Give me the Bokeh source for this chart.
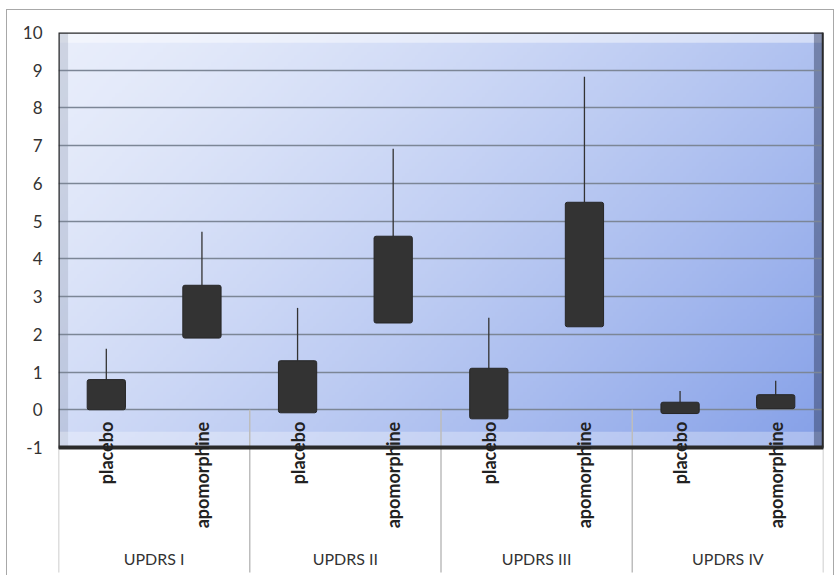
import numpy as np
from bokeh.plotting import figure
from bokeh.models import FactorRange, Range1d, FixedTicker, ColumnDataSource, InlineStyleSheet
from bokeh.core.properties import value
from bokeh.embed import file_html
from bokeh.resources import INLINE

# ---- data ----
groups = ["UPDRS I", "UPDRS II", "UPDRS III", "UPDRS IV"]
treatments = ["placebo", "apomorphine"]
box_low = [0.0, 1.9, -0.08, 2.3, -0.24, 2.2, -0.1, 0.03]
box_high = [0.8, 3.3, 1.3, 4.6, 1.1, 5.5, 0.2, 0.4]
whisker_high = [1.62, 4.72, 2.7, 6.92, 2.44, 8.83, 0.5, 0.77]
y_ticks = list(range(-1, 11))
y_tick_labels = ["-1", "0", "1", "2", "3", "4", "5", "6", "7", "8", "9", "10"]

factors = [(g, t) for g in groups for t in treatments]
n_cat = len(factors)
y_min, y_max = y_ticks[0], y_ticks[-1]

FONT = value("Lato")
Y_BOTTOM = -4.393

p = figure(width=834, height=575, output_backend="svg", toolbar_location=None,
           x_range=FactorRange(*factors, group_padding=0, factor_padding=0, range_padding=0),
           y_range=Range1d(Y_BOTTOM, y_max),
           min_border_left=58, min_border_right=11, min_border_top=32, min_border_bottom=0)
p.outline_line_color = None
p.background_fill_color = "white"
p.border_fill_color = "white"
p.xaxis.visible = False
p.xgrid.visible = False

# outer chart border (CSS overlay)
p.stylesheets = [InlineStyleSheet(css=(
    ":host { position: relative; }"
    ":host::after { content: ''; position: absolute; left: 6px; top: 9px; right: 0px; bottom: -4px;"
    " border: 1.5px solid #a8a8a8; pointer-events: none; box-sizing: border-box; }"))]

yax = p.yaxis[0]
yax.ticker = FixedTicker(ticks=y_ticks)
yax.major_label_overrides = {t: s for t, s in zip(y_ticks, y_tick_labels)}
yax.axis_line_color = None
yax.major_tick_line_color = None
yax.minor_tick_line_color = None
yax.major_tick_out = 0
yax.major_label_standoff = 16
yax.major_label_text_font = "Lato"
yax.major_label_text_font_size = "17px"
yax.major_label_text_color = "#333333"

p.ygrid.ticker = FixedTicker(ticks=y_ticks)
p.ygrid.grid_line_color = "#7c8696"
p.ygrid.grid_line_width = 1.5

# ---- gradient wall ----
ny, nx = 120, 240
u = np.linspace(0, 1, nx)[None, :]
v = np.linspace(1, 0, ny)[:, None]  # row 0 = bottom
t = (0.65 * u + 0.35 * v) ** 1.3
c1 = np.array([233, 238, 251])
c2 = np.array([133, 160, 232])
r = (c1[0] + (c2[0] - c1[0]) * t).astype(np.uint32)
g = (c1[1] + (c2[1] - c1[1]) * t).astype(np.uint32)
b = (c1[2] + (c2[2] - c1[2]) * t).astype(np.uint32)
img = (255 << 24) | (b << 16) | (g << 8) | r
p.image_rgba(image=[img.astype(np.uint32)], x=0, y=y_min, dw=n_cat, dh=y_max - y_min, level="image")

# bevel strips
p.quad(left=0, right=n_cat, bottom=y_max - 0.27, top=y_max, fill_color="white", fill_alpha=0.45,
       line_color=None, level="image")
p.quad(left=0, right=0.1, bottom=y_min, top=y_max, fill_color="#8e97ab", fill_alpha=0.3,
       line_color=None, level="image")
p.quad(left=0, right=n_cat, bottom=y_min, top=y_min + 0.42, fill_color="white", fill_alpha=0.3,
       line_color=None, level="image")
p.quad(left=n_cat - 0.1, right=n_cat, bottom=y_min, top=y_max, fill_color="#2c3858", fill_alpha=0.45,
       line_color=None, level="image")

# separators between groups (below zero line)
sep_x = [i * len(treatments) for i in range(len(groups) + 1)]
p.segment(x0=sep_x, y0=[0] * len(sep_x), x1=sep_x, y1=[Y_BOTTOM + 0.08] * len(sep_x),
          line_color="#bdbdbd", line_width=1.5)

# frame outline
p.quad(left=0, right=n_cat, bottom=y_min, top=y_max, fill_color=None,
       line_color="#2a2a2a", line_width=2.5)
p.segment(x0=[0], y0=[y_min], x1=[n_cat], y1=[y_min], line_color="#2a2a2a", line_width=4)
p.segment(x0=[n_cat], y0=[y_min], x1=[n_cat], y1=[y_max], line_color="#2a2a2a", line_width=3.5)

# ---- bars ----
src = ColumnDataSource(dict(x=factors, low=box_low, high=box_high, wh=whisker_high,
                            lab=[f[1] for f in factors]))
p.segment(x0="x", y0="high", x1="x", y1="wh", source=src, line_color="#333333", line_width=1.3)
p.vbar(x="x", bottom="low", top="high", width=0.4, source=src, fill_color="#333333",
       line_color="#262626", line_width=1, border_radius=2)

# ---- category labels ----
p.text(x="x", y=0, text="lab", source=src, angle=np.pi / 2, text_align="right",
       text_baseline="middle", y_offset=12, text_font=FONT, text_font_style="bold",
       text_font_size="18px", text_color="#222222")
gsrc = ColumnDataSource(dict(x=groups, lab=groups))
p.text(x="x", y=y_min, text="lab", source=gsrc, text_align="center", text_baseline="middle",
       y_offset=111, text_font=FONT, text_font_size="16px", text_color="#333333")

open("out.html", "w").write(file_html(p, INLINE))
